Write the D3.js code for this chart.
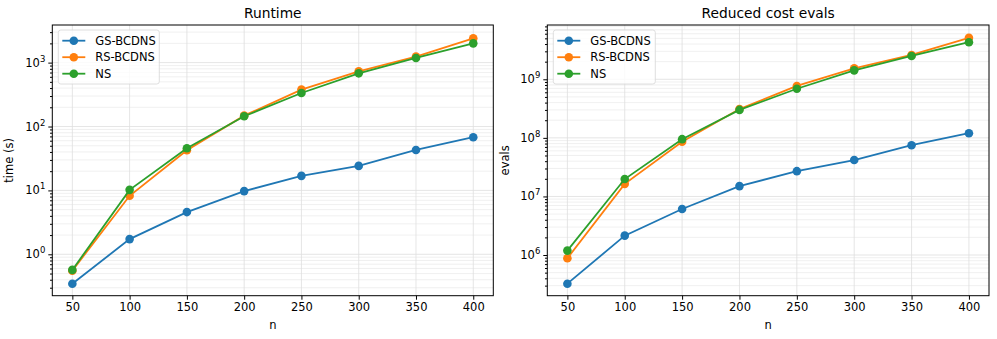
<!DOCTYPE html>
<html>
<head>
<meta charset="utf-8">
<script src="https://cdn.jsdelivr.net/npm/d3@7"></script>
<style>
body { margin:0; background:#fff; }
svg { font-family: "DejaVu Sans", sans-serif; }
</style>
</head>
<body>
<svg id="chart" width="997" height="339"></svg>
<script>
var nValues = [50, 100, 150, 200, 250, 300, 350, 400];
var seriesNames = ["GS-BCDNS", "RS-BCDNS", "NS"];
var seriesColors = ["#1f77b4", "#ff7f0e", "#2ca02c"];

// runtime in seconds
var runtimeGS = [0.347, 1.73, 4.58, 9.75, 16.9, 24.2, 43, 68];
var runtimeRS = [0.555, 8.24, 42.6, 148, 378, 731, 1240, 2400];
var runtimeNS = [0.57, 10.2, 45.8, 145, 335, 680, 1183, 2003];

// reduced cost evaluations
var evalsGS = [3.24e5, 2.14e6, 6.1e6, 1.5e7, 2.7e7, 4.18e7, 7.5e7, 1.2e8];
var evalsRS = [8.8e5, 1.64e7, 8.6e7, 3.1e8, 7.7e8, 1.54e9, 2.6e9, 5.1e9];
var evalsNS = [1.19e6, 1.98e7, 9.5e7, 3.0e8, 6.9e8, 1.42e9, 2.5e9, 4.3e9];

var xTicks = [50, 100, 150, 200, 250, 300, 350, 400];

var svg = d3.select("#chart");

var drawPanel = function(cfg)
{
    var left = cfg.left, top = cfg.top, width = cfg.width, height = cfg.height;
    var g = svg.append("g")
        .attr("transform", "translate(" + left + "," + top + ")");

    var x = d3.scaleLinear()
        .domain([32.5, 417.5])
        .range([0, width]);
    var y = d3.scaleLog()
        .domain(cfg.yDomain)
        .range([height, 0]);

    var lo = Math.floor(Math.log10(cfg.yDomain[0]));
    var hi = Math.ceil(Math.log10(cfg.yDomain[1]));
    var major = [], minor = [];
    for (var e = lo; e <= hi; e++)
    {
        var base = Math.pow(10, e);
        if (base >= cfg.yDomain[0] && base <= cfg.yDomain[1]) major.push(base);
        for (var m = 2; m <= 9; m++)
        {
            var v = m * base;
            if (v >= cfg.yDomain[0] && v <= cfg.yDomain[1]) minor.push(v);
        }
    }

    // grid
    g.append("g").selectAll("line").data(minor).enter().append("line")
        .attr("x1", 0).attr("x2", width)
        .attr("y1", function(d) { return y(d); })
        .attr("y2", function(d) { return y(d); })
        .attr("stroke", "#ececec").attr("stroke-width", 0.8);
    g.append("g").selectAll("line").data(major).enter().append("line")
        .attr("x1", 0).attr("x2", width)
        .attr("y1", function(d) { return y(d); })
        .attr("y2", function(d) { return y(d); })
        .attr("stroke", "#dedede").attr("stroke-width", 0.8);
    g.append("g").selectAll("line").data(xTicks).enter().append("line")
        .attr("y1", 0).attr("y2", height)
        .attr("x1", function(d) { return x(d); })
        .attr("x2", function(d) { return x(d); })
        .attr("stroke", "#dedede").attr("stroke-width", 0.8);

    // axes
    var xAxis = d3.axisBottom(x).tickValues(xTicks).tickSize(4).tickPadding(3);
    var gx = g.append("g")
        .attr("transform", "translate(0," + height + ")")
        .call(xAxis);
    gx.select(".domain").remove();
    gx.selectAll("text").attr("font-size", 11.5).attr("fill", "#000")
        .attr("font-family", "DejaVu Sans");

    var yAxisMajor = d3.axisLeft(y).tickValues(major).tickSize(4).tickFormat("");
    var gy = g.append("g").call(yAxisMajor);
    gy.select(".domain").remove();
    var yAxisMinor = d3.axisLeft(y).tickValues(minor).tickSize(2.3).tickFormat("");
    var gym = g.append("g").call(yAxisMinor);
    gym.select(".domain").remove();

    var labs = g.append("g").selectAll("text").data(major).enter().append("text")
        .attr("x", -7)
        .attr("y", function(d) { return y(d) + 4; })
        .attr("text-anchor", "end")
        .attr("font-size", 11.5);
    labs.append("tspan").text("10");
    labs.append("tspan")
        .attr("dy", -5)
        .attr("font-size", 8.5)
        .text(function(d) { return Math.round(Math.log10(d)); });

    // frame
    g.append("rect")
        .attr("width", width).attr("height", height)
        .attr("fill", "none").attr("stroke", "#000").attr("stroke-width", 1);

    // lines
    var line = d3.line()
        .x(function(d, i) { return x(nValues[i]); })
        .y(function(d) { return y(d); });

    cfg.series.forEach(function(vals, k)
    {
        g.append("path")
            .datum(vals)
            .attr("d", line)
            .attr("fill", "none")
            .attr("stroke", seriesColors[k])
            .attr("stroke-width", 1.8);
        g.append("g").selectAll("circle").data(vals).enter().append("circle")
            .attr("cx", function(d, i) { return x(nValues[i]); })
            .attr("cy", function(d) { return y(d); })
            .attr("r", 4.3)
            .attr("fill", seriesColors[k]);
    });

    // title & labels
    g.append("text")
        .attr("x", width / 2).attr("y", -7)
        .attr("text-anchor", "middle")
        .attr("font-size", 13.8)
        .text(cfg.title);
    g.append("text")
        .attr("x", width / 2).attr("y", height + 33)
        .attr("text-anchor", "middle")
        .attr("font-size", 11.5)
        .text("n");
    g.append("text")
        .attr("transform", "translate(" + cfg.yLabelX + "," + (height / 2) + ") rotate(-90)")
        .attr("text-anchor", "middle")
        .attr("font-size", 11.5)
        .text(cfg.yLabel);

    // legend
    var lg = g.append("g").attr("transform", "translate(" + cfg.legendX + ",5)");
    lg.append("rect")
        .attr("width", cfg.legendW).attr("height", 54)
        .attr("rx", 2.5)
        .attr("fill", "#fff").attr("fill-opacity", 0.8)
        .attr("stroke", "#d5d5d5").attr("stroke-width", 0.8);
    seriesNames.forEach(function(name, k)
    {
        var yy = 10.7 + k * 16.5;
        lg.append("line")
            .attr("x1", 4).attr("x2", 27)
            .attr("y1", yy).attr("y2", yy)
            .attr("stroke", seriesColors[k]).attr("stroke-width", 1.8);
        lg.append("circle")
            .attr("cx", 15.5).attr("cy", yy).attr("r", 4.3)
            .attr("fill", seriesColors[k]);
        lg.append("text")
            .attr("x", 37).attr("y", yy + 4)
            .attr("font-size", 11.5)
            .text(name);
    });
};

drawPanel({
    left: 52.3, top: 25, width: 441, height: 270.7,
    yDomain: [0.225, 3880],
    series: [runtimeGS, runtimeRS, runtimeNS],
    title: "Runtime",
    yLabel: "time (s)",
    yLabelX: -39,
    legendX: 6,
    legendW: 101
});

drawPanel({
    left: 547.3, top: 25, width: 441.7, height: 270.7,
    yDomain: [2.02e5, 8.45e9],
    series: [evalsGS, evalsRS, evalsNS],
    title: "Reduced cost evals",
    yLabel: "evals",
    yLabelX: -38,
    legendX: 6,
    legendW: 102
});
</script>
</body>
</html>
